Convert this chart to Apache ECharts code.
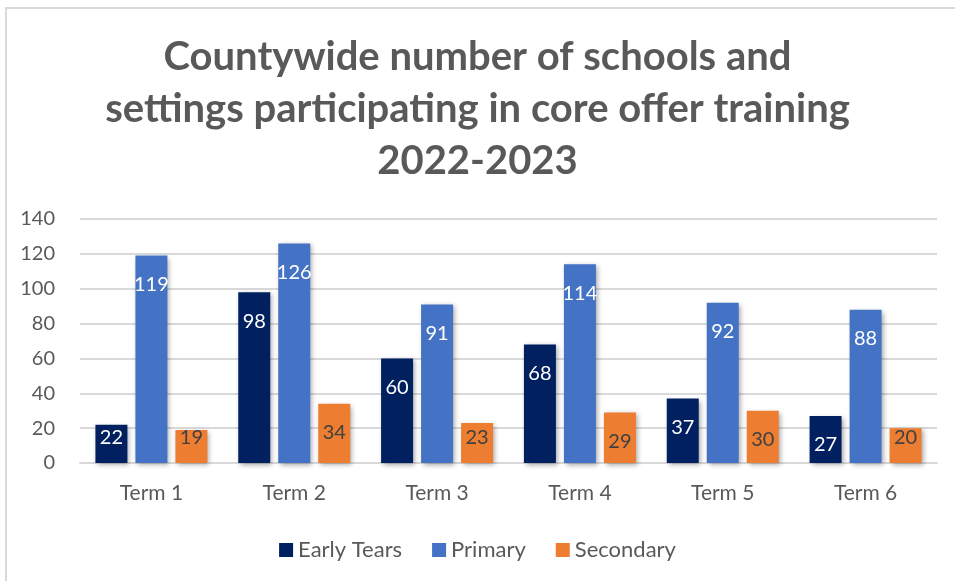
<!DOCTYPE html>
<html>
<head>
<meta charset="utf-8">
<script src="https://cdn.jsdelivr.net/npm/echarts@6/dist/echarts.min.js"></script>
<style>
  html, body { margin: 0; padding: 0; background: #fff; }
  #chart { width: 955px; height: 581px; }
</style>
</head>
<body>
<div id="chart"></div>
<script>
// Terms of the 2022-2023 school year
const terms = ['Term 1', 'Term 2', 'Term 3', 'Term 4', 'Term 5', 'Term 6'];

// Number of schools / settings taking part in core offer training
const earlyYears = [22, 98, 60, 68, 37, 27];
const primary = [119, 126, 91, 114, 92, 88];
const secondary = [19, 34, 23, 29, 30, 20];

const seriesNames = ['Early Tears', 'Primary', 'Secondary'];
const colors = ['#002060', '#4472C4', '#ED7D31'];
const labelColors = ['#ffffff', '#ffffff', '#404040'];

const FONT = 'Lato';

// Labels sit just inside the top of each bar; short bars keep them near the base
function toItems(values) {
  return values.map(v => ({
    value: v,
    label: v < 26
      ? { position: 'insideBottom', distance: 15 }
      : { position: 'insideTop', distance: 19 }
  }));
}

function barSeries(name, values, idx) {
  return {
    name: name,
    type: 'bar',
    barWidth: 32,
    barGap: '25%',
    data: toItems(values),
    itemStyle: {
      color: colors[idx],
      shadowColor: 'rgba(0,0,0,0.35)',
      shadowBlur: 5,
      shadowOffsetX: 2,
      shadowOffsetY: 2
    },
    label: {
      show: true,
      color: labelColors[idx],
      fontFamily: FONT,
      fontSize: 20
    }
  };
}

const chart = echarts.init(document.getElementById('chart'), null, { renderer: 'canvas' });

chart.setOption({
  animation: false,
  backgroundColor: '#ffffff',
  graphic: [{
    type: 'polyline',
    shape: { points: [[6, 600], [6, 8], [960, 8]] },
    style: { stroke: '#d9d9d9', lineWidth: 2, fill: null },
    silent: true
  }],
  title: {
    text: 'Countywide number of schools and\nsettings participating in core offer training\n2022-2023',
    left: 'center',
    top: 26,
    textStyle: {
      fontFamily: FONT,
      fontWeight: 'bold',
      fontSize: 40,
      lineHeight: 52,
      color: '#595959'
    }
  },
  legend: {
    bottom: 15,
    left: 'center',
    itemWidth: 14,
    itemHeight: 14,
    itemGap: 30,
    icon: 'rect',
    textStyle: { fontFamily: FONT, fontSize: 22, color: '#595959' },
    data: seriesNames
  },
  grid: {
    left: 80,
    right: 18,
    top: 219,
    bottom: 118,
    containLabel: false
  },
  xAxis: {
    type: 'category',
    data: terms,
    axisLine: { show: true, lineStyle: { color: '#d9d9d9', width: 2 } },
    axisTick: { show: false },
    axisLabel: { fontFamily: FONT, fontSize: 21, color: '#595959', margin: 20 }
  },
  yAxis: {
    type: 'value',
    min: 0,
    max: 140,
    interval: 20,
    axisLine: { show: false },
    axisTick: { show: false },
    axisLabel: { fontFamily: FONT, fontSize: 20, color: '#595959', margin: 25 },
    splitLine: { lineStyle: { color: '#d9d9d9', width: 2 } }
  },
  series: [
    barSeries(seriesNames[0], earlyYears, 0),
    barSeries(seriesNames[1], primary, 1),
    barSeries(seriesNames[2], secondary, 2)
  ]
});
</script>
</body>
</html>
